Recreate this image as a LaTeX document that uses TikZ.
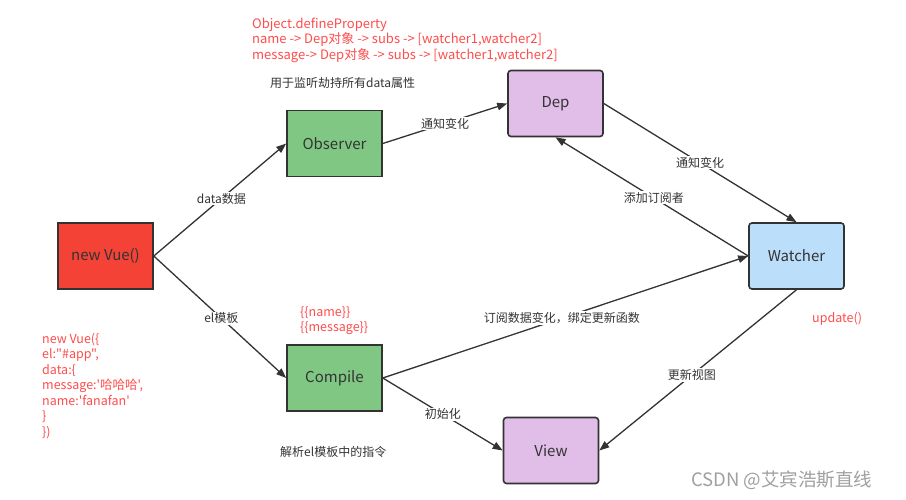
\documentclass[tikz,border=0pt]{standalone}
\usepackage{fontspec}
\newfontfamily\yh{Noto Sans CJK SC}
\usetikzlibrary{arrows.meta}
\definecolor{boxline}{HTML}{333333}
\definecolor{txt}{HTML}{333333}
\definecolor{redfill}{HTML}{F44336}
\definecolor{greenfill}{HTML}{81C784}
\definecolor{purplefill}{HTML}{E1BEE7}
\definecolor{bluefill}{HTML}{BBDEFB}
\definecolor{redtxt}{HTML}{FF4C4C}
\definecolor{wm}{HTML}{A0A0A0}
\tikzset{
  box/.style={draw=boxline, line width=1.6pt, minimum width=95pt, minimum height=66pt,
    inner sep=0pt, text=txt, font=\yh\fontsize{15}{18}\selectfont},
  rbox/.style={box, rounded corners=3pt},
  conn/.style={draw=boxline, line width=1.3pt, -{Triangle[length=10pt,width=7.5pt]}},
  lbl/.style={fill=white, inner sep=1pt, text=txt, font=\yh\fontsize{12}{14}\selectfont},
  note/.style={text=txt, inner sep=0pt, font=\yh\fontsize{12}{14}\selectfont},
  rnote/.style={text=redtxt, inner sep=0pt, align=left, font=\yh\fontsize{12.5}{15.5}\selectfont},
}
\begin{document}
\begin{tikzpicture}[x=1pt,y=-1pt]
\useasboundingbox[fill=white] (0,0) rectangle (906,500);
\node[box, fill=redfill]  (vue) at (105.5,256) {new Vue()};
\node[box, fill=greenfill] (obs) at (334.5,143.5) {Observer};
\node[rbox, fill=purplefill] (dep) at (555.5,103.5) {Dep};
\node[rbox, fill=bluefill] (wat) at (796.5,256) {Watcher};
\node[box, fill=greenfill] (cmp) at (334.5,378) {Compile};
\node[rbox, fill=purplefill] (view) at (551,450.5) {View};

\draw[conn] (vue.east) -- node[lbl, pos=0.51] {data数据} (obs.west);
\draw[conn] (vue.east) -- node[lbl, pos=0.51] {el模板} (cmp.west);
\draw[conn] (obs.east) -- node[lbl, pos=0.5] {通知变化} (dep.west);
\draw[conn] (dep.east) -- node[lbl, pos=0.5] {通知变化} (wat.north);
\draw[conn] (wat.west) -- node[lbl, pos=0.49] {添加订阅者} (dep.south);
\draw[conn] (cmp.east) -- node[lbl, pos=0.49] {订阅数据变化，绑定更新函数} (wat.west);
\draw[conn] (cmp.east) -- node[lbl, pos=0.5] {初始化} (view.west);
\draw[conn] (wat.south) -- node[lbl, pos=0.53] {更新视图} (view.east);

\node[rnote, anchor=north west, font=\yh\fontsize{13}{15.5}\selectfont] (def) at (252,17.5) {Object.defineProperty\\name -> Dep对象 -> subs -> [watcher1,watcher2]\\message-> Dep对象 -> subs -> [watcher1,watcher2]};
\node[note, anchor=west] (obsnote) at (270,83) {用于监听劫持所有data属性};
\node[rnote, anchor=north west] (tpl) at (300,306) {\{\{name\}\}\\\{\{message\}\}};
\node[rnote, anchor=north west] (code) at (42,333) {new Vue(\{\\el:"\#app",\\data:\{\\message:'哈哈哈',\\name:'fanafan'\\\}\\\})};
\node[note, anchor=west] (cmpnote) at (280,452) {解析el模板中的指令};
\node[rnote, anchor=west] (upd) at (812,319) {update()};
\node[anchor=west, inner sep=0pt, text=wm, font=\yh\fontsize{18.5}{20}\selectfont] (wmk) at (691,480) {CSDN @艾宾浩斯直线};
\end{tikzpicture}
\end{document}
